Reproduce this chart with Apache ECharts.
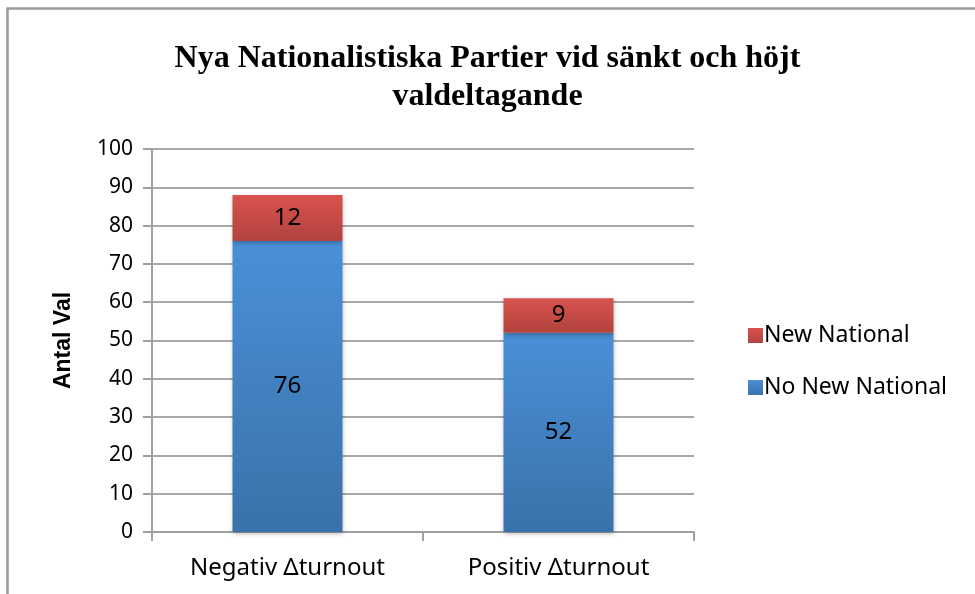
<!DOCTYPE html>
<html>
<head>
<meta charset="utf-8">
<script src="https://cdn.jsdelivr.net/npm/echarts@6/dist/echarts.min.js"></script>
<style>html,body{margin:0;padding:0;background:#fff}#c{width:975px;height:594px}</style>
</head>
<body>
<div id="c"></div>
<script>
const categories = ['Negativ Δturnout', 'Positiv Δturnout'];
const noNewNational = [76, 52];
const newNational = [12, 9];
const seriesNames = ['No New National', 'New National'];
const yMin = 0, yMax = 100, yStep = 10;

const chart = echarts.init(document.getElementById('c'), null, {renderer: 'canvas'});
const grad = (top, bottom) => new echarts.graphic.LinearGradient(0, 0, 0, 1, [
  {offset: 0, color: top}, {offset: 1, color: bottom}
]);
const labelFont = '"Noto Sans", "Open Sans", sans-serif';
chart.setOption({
  animation: false,
  graphic: [{
    type: 'rect', left: 5, top: 6,
    shape: {width: 980, height: 600},
    style: {fill: 'none', stroke: '#9a9a9a', lineWidth: 2.5},
    silent: true, z: 0
  }],
  title: {
    text: 'Nya Nationalistiska Partier vid sänkt och höjt\nvaldeltagande',
    left: 'center', top: 35,
    textStyle: {fontFamily: '"Liberation Serif", "Times New Roman", serif', fontWeight: 'bold', fontSize: 32, lineHeight: 38, color: '#000'}
  },
  legend: {
    orient: 'vertical', left: 743, top: 319,
    itemWidth: 15, itemHeight: 15, itemGap: 29,
    icon: 'rect',
    data: ['New National', 'No New National'],
    textStyle: {fontFamily: labelFont, fontSize: 23, color: '#000', padding: [0, 0, 0, -4]}
  },
  grid: {left: 152, right: 281, top: 149, bottom: 62},
  xAxis: {
    type: 'category', data: categories,
    axisLine: {lineStyle: {color: '#a0a0a0', width: 2}},
    axisTick: {show: true, length: 9, lineStyle: {color: '#a0a0a0', width: 2}},
    axisLabel: {margin: 24, fontFamily: labelFont, fontSize: 24, color: '#000'}
  },
  yAxis: {
    type: 'value', min: yMin, max: yMax, interval: yStep,
    name: 'Antal Val', nameLocation: 'middle', nameGap: 77, nameRotate: 90,
    nameTextStyle: {fontFamily: '"Liberation Sans", Arial, sans-serif', fontWeight: 'bold', fontSize: 23, color: '#000'},
    axisLine: {show: true, lineStyle: {color: '#a0a0a0', width: 2}},
    axisTick: {show: true, length: 9, lineStyle: {color: '#a0a0a0', width: 2}},
    splitLine: {lineStyle: {color: '#a8a8a8', width: 2}},
    axisLabel: {margin: 19, fontFamily: labelFont, fontSize: 21, color: '#000'}
  },
  series: [{
    name: 'No New National', type: 'bar', stack: 's', data: noNewNational,
    barWidth: 110,
    itemStyle: {color: grad('#4a90d7', '#3a72aa'), shadowBlur: 5, shadowColor: 'rgba(0,0,0,0.3)', shadowOffsetY: 2},
    label: {show: true, position: 'inside', fontFamily: labelFont, fontSize: 24, color: '#000'}
  }, {
    name: 'New National', type: 'bar', stack: 's', data: newNational,
    barWidth: 110,
    itemStyle: {color: grad('#d9534e', '#b1423d'), shadowBlur: 5, shadowColor: 'rgba(0,0,0,0.3)', shadowOffsetY: 2},
    label: {show: true, position: 'inside', fontFamily: labelFont, fontSize: 24, color: '#000'}
  }]
});
</script>
</body>
</html>
